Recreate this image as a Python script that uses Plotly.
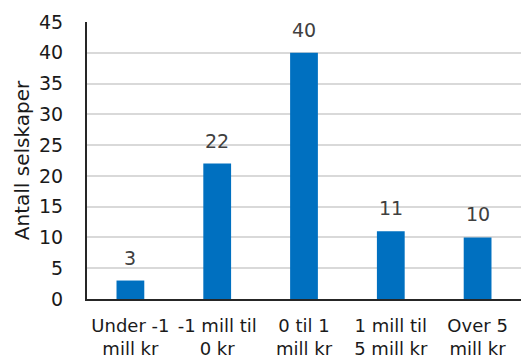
import plotly.graph_objects as go

categories = ["Under -1<br>mill kr", "-1 mill til<br>0 kr", "0 til 1<br>mill kr", "1 mill til<br>5 mill kr", "Over 5<br>mill kr"]
values = [3, 22, 40, 11, 10]
y_ticks = [0, 5, 10, 15, 20, 25, 30, 35, 40, 45]

FONT = "DejaVu Sans, Lato, sans-serif"

fig = go.Figure(
    go.Bar(
        x=categories,
        y=values,
        marker=dict(color="#0070C0", line=dict(width=0)),
        width=0.32,
    )
)

for c, v in zip(categories, values):
    fig.add_annotation(
        x=c, y=v, text=str(v), showarrow=False,
        yanchor="bottom", yshift=10,
        font=dict(family=FONT, size=19, color="#404040"),
    )

fig.update_layout(
    width=521, height=361,
    margin=dict(l=87, r=0, t=22, b=62),
    paper_bgcolor="white", plot_bgcolor="white",
    showlegend=False,
    font=dict(family=FONT, color="#1a1a1a"),
)
fig.update_xaxes(
    showline=True, linecolor="#262626", linewidth=2,
    tickfont=dict(family=FONT, size=18, color="#1a1a1a"),
    ticks="", showgrid=False,
    ticklabelstandoff=9,
)
fig.update_yaxes(
    range=[0, 45], tickvals=y_ticks,
    showgrid=True, gridcolor="#d9d9d9", gridwidth=1.5,
    showline=True, linecolor="#262626", linewidth=2,
    zeroline=False,
    tickfont=dict(family=FONT, size=19, color="#1a1a1a"),
    ticklabelstandoff=18,
    title=dict(text="Antall selskaper", font=dict(family=FONT, size=20, color="#1a1a1a"), standoff=4),
)

fig.write_html("out.html")
